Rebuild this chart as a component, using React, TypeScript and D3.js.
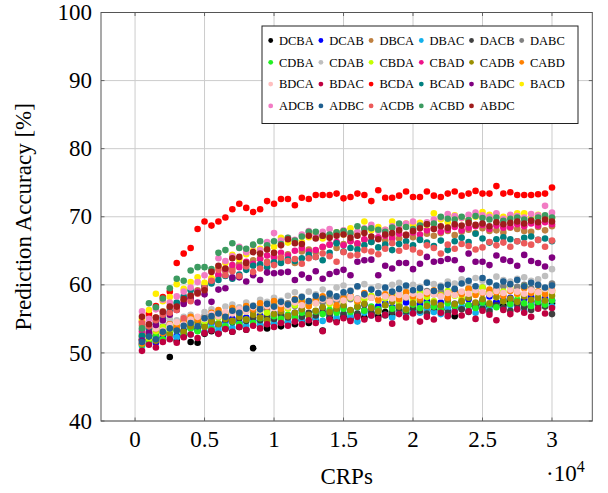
import React from "react";
import * as d3 from "d3";

const crps = [500,1000,1500,2000,2500,3000,3500,4000,4500,5000,5500,6000,6500,7000,7500,8000,8500,9000,9500,10000,10500,11000,11500,12000,12500,13000,13500,14000,14500,15000,15500,16000,16500,17000,17500,18000,18500,19000,19500,20000,20500,21000,21500,22000,22500,23000,23500,24000,24500,25000,25500,26000,26500,27000,27500,28000,28500,29000,29500,30000];

const xTicks = [0, 5000, 10000, 15000, 20000, 25000, 30000];
const xTickLabels = ["0", "0.5", "1", "1.5", "2", "2.5", "3"];
const yTicks = [40, 50, 60, 70, 80, 90, 100];

const DCBA = [52.0,52.6,51.9,52.2,49.4,51.8,52.5,51.6,51.5,52.8,53.2,52.9,53.6,53.1,53.8,53.4,50.7,54.0,53.6,54.3,53.9,54.5,54.2,54.8,54.4,55.0,53.3,55.2,54.8,55.4,55.0,55.6,55.2,55.8,55.4,56.0,55.6,56.2,55.8,56.4,56.0,56.6,56.2,56.8,56.4,55.4,56.6,57.0,56.7,57.2,56.9,57.4,57.0,57.6,57.3,56.8,57.5,57.1,57.7,57.3];
const DCAB = [51.3,51.9,51.5,52.3,52.8,52.5,53.2,53.7,53.3,53.9,54.4,54.0,54.6,55.0,54.5,55.2,54.8,55.5,55.1,55.7,56.0,55.4,55.9,56.3,55.7,56.1,56.6,56.0,56.4,56.8,56.2,56.7,57.1,56.5,56.9,57.3,56.7,57.0,57.4,56.9,57.2,57.6,57.0,57.4,57.8,57.2,57.5,57.9,57.3,57.7,58.3,57.5,57.8,58.1,57.4,57.9,58.2,57.6,58.0,57.7];
const DBCA = [54.0,55.5,55.2,56.1,56.6,57.2,57.8,58.5,59.2,59.9,60.8,61.3,62.0,62.4,63.1,62.8,63.6,63.9,63.4,64.2,63.8,64.5,63.2,64.9,65.2,64.8,65.5,65.9,65.4,66.0,66.4,65.9,66.6,66.3,66.9,66.5,67.2,66.8,67.4,67.0,66.7,67.5,67.2,67.6,67.9,67.3,67.8,68.1,67.6,68.3,67.9,68.0,67.7,68.4,68.2,67.9,67.8,68.5,68.0,68.6];
const DBAC = [51.0,51.5,52.2,51.8,52.6,52.3,53.0,52.7,53.4,53.1,53.8,53.4,54.1,53.7,54.3,54.0,54.6,54.2,54.8,54.4,55.0,54.6,55.3,54.9,55.5,55.1,54.7,55.6,55.2,55.8,55.4,54.6,55.9,55.5,56.1,55.6,55.2,56.2,55.8,56.3,55.9,56.5,56.0,55.7,56.6,56.2,56.8,56.3,55.9,56.7,56.4,56.9,56.5,57.0,56.6,56.2,57.1,56.7,57.2,56.8];
const DACB = [52.4,52.9,52.6,53.4,53.0,53.7,53.3,54.0,53.6,54.2,54.7,54.3,54.9,54.5,55.1,54.7,55.2,54.8,55.4,55.0,55.6,55.2,55.7,55.3,55.9,55.5,56.0,55.6,56.1,55.7,56.2,55.8,56.3,55.9,56.4,55.5,56.0,56.5,56.1,56.6,56.2,55.8,56.7,56.3,55.9,56.8,56.4,56.0,56.9,56.5,56.1,57.0,56.6,56.2,57.1,56.7,56.3,57.2,56.8,55.7];
const DABC = [52.8,53.4,53.0,53.9,54.3,54.0,54.7,55.0,54.6,55.4,55.1,55.8,55.5,56.1,55.7,56.4,56.0,56.7,56.3,57.0,56.6,57.3,56.9,57.5,57.2,57.8,57.4,58.1,57.6,58.3,57.9,58.0,58.5,58.2,58.7,58.3,58.9,58.5,58.1,58.8,58.4,59.1,58.6,59.0,58.7,59.3,58.9,59.5,59.2,59.6,59.0,59.4,59.8,59.3,59.7,60.0,59.5,59.9,59.4,60.2];
const CDBA = [51.2,51.8,52.4,52.0,52.9,53.3,52.8,53.6,53.2,54.0,53.5,54.3,53.9,54.6,54.2,54.9,54.4,55.1,54.7,55.4,55.0,55.6,55.2,55.9,55.5,56.1,55.7,56.3,55.9,56.5,56.0,56.7,56.2,56.8,56.4,57.0,56.5,56.9,56.3,57.1,56.6,57.2,56.8,56.4,57.3,56.9,57.5,57.0,56.6,57.4,57.1,56.7,57.6,57.2,57.8,57.3,56.9,57.5,57.1,57.7];
const CDAB = [53.5,54.2,53.8,54.6,55.0,54.8,55.3,55.6,55.2,56.0,56.4,56.1,56.8,57.1,56.7,57.4,57.0,57.8,57.5,58.1,57.7,58.4,58.9,58.3,59.0,58.6,59.3,58.8,59.6,59.9,59.2,59.7,60.1,59.5,59.8,59.4,60.0,60.3,59.6,60.0,59.7,60.4,60.1,59.9,60.5,60.2,60.8,60.3,61.0,60.6,60.4,61.2,60.7,60.5,60.9,61.1,60.6,60.8,61.3,62.3];
const CBDA = [52.6,52.1,53.2,53.8,53.4,54.1,54.7,54.3,55.0,54.6,55.5,55.2,55.8,56.3,55.7,56.1,56.7,56.2,55.9,56.8,57.2,56.5,57.0,57.6,56.9,57.3,57.9,57.2,56.7,57.6,58.1,57.4,57.9,58.4,57.7,58.0,58.6,57.5,58.3,57.8,58.9,58.2,57.6,58.5,59.1,58.4,58.0,59.3,58.7,59.6,58.9,58.2,59.0,59.5,58.6,59.8,59.1,58.5,59.3,58.9];
const CBAD = [53.2,53.8,54.6,55.3,56.0,56.8,57.4,58.0,59.0,59.6,60.4,61.5,62.3,62.9,62.6,63.4,63.1,63.8,64.3,64.0,64.7,64.3,65.0,65.4,64.9,65.1,65.6,65.9,66.3,65.8,66.4,66.1,66.7,66.4,67.0,67.2,66.8,67.5,67.3,67.7,67.4,68.0,68.3,67.8,68.1,68.5,68.0,68.4,68.6,68.8,68.2,68.7,68.4,68.5,68.9,68.6,69.0,68.7,69.2,68.9];
const CADB = [51.9,52.5,51.8,53.0,52.7,53.5,53.1,53.9,54.4,53.8,54.6,54.2,55.0,54.7,55.3,54.9,55.6,55.2,54.8,55.7,56.1,55.4,55.9,56.4,55.6,56.2,56.7,56.0,56.5,57.0,56.3,56.8,57.2,56.6,56.1,57.0,57.5,56.8,56.4,57.3,57.7,56.9,57.4,57.0,57.8,57.2,57.6,58.1,57.4,57.9,57.3,58.2,57.6,58.0,57.5,58.3,57.8,58.1,57.7,58.4];
const CABD = [51.4,52.7,53.5,52.9,54.2,53.8,54.6,55.3,54.9,55.1,55.9,56.3,55.6,56.6,56.0,56.9,56.4,57.3,56.8,57.6,56.5,57.1,57.9,57.4,56.9,57.7,58.3,57.5,57.0,58.0,58.4,57.6,58.8,58.1,57.8,58.6,58.2,57.9,58.9,58.3,58.0,58.7,59.2,58.4,58.1,59.0,58.6,59.4,58.5,58.8,59.3,58.9,58.4,59.1,58.7,59.5,58.8,59.0,58.6,59.2];
const BDCA = [52.2,53.0,53.6,53.3,54.1,54.5,54.2,54.9,55.3,55.0,55.7,55.4,56.0,55.8,56.4,56.1,56.7,56.3,56.9,56.6,57.2,56.8,57.4,57.0,57.6,57.3,57.8,57.5,58.0,57.7,58.2,57.9,58.4,58.1,58.6,58.3,58.0,58.5,58.2,58.7,58.4,58.9,58.6,58.3,58.8,58.5,59.0,58.7,59.2,58.9,58.6,59.1,58.8,59.3,59.0,58.7,59.2,58.9,59.4,59.1];
const BDAC = [50.3,51.2,50.8,51.6,52.0,51.5,52.3,52.7,52.2,52.9,53.3,52.8,53.5,53.1,53.8,53.4,54.0,53.6,54.2,53.8,54.4,54.0,54.6,54.2,54.8,54.4,53.2,54.9,54.5,55.1,54.7,55.3,54.9,55.5,55.0,55.6,54.3,55.7,55.2,55.8,54.6,55.3,54.9,55.9,55.4,56.0,55.5,56.1,55.0,56.2,55.6,54.8,56.3,55.7,56.4,55.9,55.3,56.5,55.8,56.6];
const BCDA = [54.6,55.8,56.9,58.2,59.0,63.2,64.6,65.4,68.2,69.3,68.7,69.3,69.9,71.1,71.9,71.3,70.7,71.1,72.3,71.9,72.6,72.6,71.7,72.8,72.6,73.2,73.2,73.2,73.4,72.7,72.9,73.4,73.2,72.3,73.9,72.8,72.8,73.1,73.7,72.9,72.9,73.7,73.1,72.9,73.4,73.7,73.1,73.4,73.8,73.4,73.4,74.5,73.4,73.6,73.2,73.2,73.2,73.3,73.4,74.3];
const BCAD = [52.5,53.6,54.3,55.1,56.0,57.4,58.3,59.2,58.8,59.6,60.2,60.7,61.3,60.9,61.5,62.2,62.8,63.0,62.6,63.3,63.2,63.7,63.5,63.9,64.4,64.1,63.6,64.7,66.1,64.9,65.4,65.2,65.8,66.3,65.5,65.9,65.1,66.0,66.4,65.8,66.6,66.2,65.7,66.5,65.1,66.4,66.9,66.3,67.5,66.8,66.2,66.7,67.0,66.7,66.4,66.9,67.1,66.6,66.8,66.4];
const BADC = [51.8,53.0,54.1,54.8,55.6,56.3,57.2,58.0,57.4,58.6,57.5,59.3,59.5,61.1,61.1,60.5,61.4,60.7,61.8,61.7,61.8,61.9,60.7,61.5,61.0,62.0,60.9,61.6,61.9,62.2,61.4,63.4,63.6,63.7,61.4,62.8,62.4,63.2,63.2,62.3,63.1,64.1,63.4,63.5,63.8,63.6,62.3,64.6,63.4,63.4,62.9,64.3,63.7,63.5,62.8,64.4,63.5,63.2,62.7,64.0];
const BACD = [55.0,56.3,58.7,57.6,58.2,60.1,59.4,60.4,61.1,60.3,61.0,62.6,63.2,64.4,63.8,64.5,65.0,65.3,65.9,65.6,66.9,66.2,66.5,66.3,67.0,67.5,66.8,67.2,67.7,67.4,68.3,67.6,69.3,68.0,68.5,68.1,69.3,68.6,69.0,68.7,69.1,68.8,70.5,69.6,69.2,70.2,69.8,69.5,70.0,70.7,70.3,70.4,70.0,70.2,70.5,70.5,69.9,70.3,69.7,69.8];
const ADCB = [56.1,55.0,56.4,57.8,57.4,58.3,59.0,59.6,60.4,61.4,62.0,63.9,63.5,64.2,65.6,64.8,65.8,65.1,66.3,67.6,66.5,66.9,66.6,67.4,67.9,67.3,67.8,68.2,67.6,68.0,67.4,67.8,68.3,68.8,67.9,68.1,68.6,68.4,69.0,69.3,68.7,69.2,69.6,69.9,70.4,70.1,69.8,70.3,70.6,70.2,70.0,70.5,69.7,70.3,70.1,69.9,70.4,70.2,71.6,70.6];
const ADBC = [51.6,52.4,52.0,53.1,53.6,53.3,54.0,54.4,53.9,55.1,55.4,55.8,55.3,56.2,55.9,56.5,56.9,56.4,57.2,56.8,57.5,57.1,57.8,58.2,57.6,58.4,58.0,58.7,58.3,58.9,59.1,59.8,58.6,59.3,58.8,59.6,59.0,59.4,59.9,59.2,59.5,60.3,59.1,59.7,60.0,59.4,60.2,60.6,59.8,61.0,60.4,59.9,60.5,60.1,60.7,59.8,60.3,60.0,59.6,59.9];
const ACDB = [54.4,53.9,54.8,55.6,55.9,56.3,55.1,57.6,58.7,59.5,60.6,62.2,61.4,62.0,61.3,62.7,61.9,62.4,63.2,62.9,64.0,63.5,63.8,63.1,63.9,64.1,64.6,64.2,63.4,64.8,64.3,64.4,65.1,64.9,64.5,65.3,66.1,65.0,65.6,65.2,64.7,65.8,65.4,64.6,65.9,65.3,66.0,65.7,65.2,65.5,66.3,65.8,66.2,65.6,66.4,66.1,65.9,66.6,65.6,66.5];
const ACBD = [53.6,57.3,56.7,58.0,59.5,60.9,60.6,62.1,62.6,62.6,62.3,64.7,65.1,66.1,65.4,65.3,65.9,66.4,65.8,66.4,66.0,66.9,66.5,67.1,67.8,67.8,67.2,67.4,67.7,67.9,67.6,68.6,68.2,68.3,68.1,67.8,68.4,69.0,68.5,68.2,68.7,68.9,69.0,70.0,69.7,69.6,70.0,69.5,70.1,69.8,69.6,69.9,69.4,69.7,69.9,69.6,69.5,69.9,70.2,69.9];
const ABDC = [55.3,54.2,55.2,56.0,56.8,56.8,57.9,58.4,58.8,59.2,61.9,62.8,62.4,63.9,64.1,63.2,64.8,64.6,65.2,64.7,65.8,66.7,66.1,66.0,67.2,66.8,67.2,66.9,67.2,67.4,66.9,67.2,67.6,67.1,66.7,67.4,67.6,68.0,67.3,67.9,68.3,68.9,68.2,68.6,68.4,68.9,68.7,69.1,68.8,69.0,68.6,69.2,68.9,69.1,69.3,69.0,69.4,69.2,69.6,69.3];

const seriesNames = ["DCBA","DCAB","DBCA","DBAC","DACB","DABC","CDBA","CDAB","CBDA","CBAD","CADB","CABD","BDCA","BDAC","BCDA","BCAD","BADC","BACD","ADCB","ADBC","ACDB","ACBD","ABDC"];
const seriesValues = [DCBA,DCAB,DBCA,DBAC,DACB,DABC,CDBA,CDAB,CBDA,CBAD,CADB,CABD,BDCA,BDAC,BCDA,BCAD,BADC,BACD,ADCB,ADBC,ACDB,ACBD,ABDC];
const seriesColors = ["#000000","#0000ff","#bf8040","#12b0ec","#404040","#808080","#22f022","#bfbfbf","#c4ff00","#ee1289","#9b8f00","#ff8000","#ffbfbf","#bf0040","#ff0000","#008080","#800080","#ffee00","#f27cc4","#206090","#ec5a5a","#3c9b60","#a01c1c"];

const W = 608, H = 493;
const L = 101, R = 592.3, T = 12.5, B = 421;
const FONT = "'Liberation Serif', 'Times New Roman', 'DejaVu Serif', serif";

export default function App() {
  const x = d3.scaleLinear().domain([-2450, 32900]).range([L, R]);
  const y = d3.scaleLinear().domain([40, 100]).range([B, T]);
  const legX0 = 270.7, legDX = 50.2, legY0 = 40.5, legDY = 21.8;
  return (
    <svg width={W} height={H} style={{ position: "absolute", left: 0, top: 0, background: "#fff", fontFamily: FONT }}>
      <g>
        {xTicks.map((t) => (
          <line key={"gx" + t} x1={x(t)} x2={x(t)} y1={T} y2={B} stroke="#cccccc" strokeWidth={1} />
        ))}
        {yTicks.map((t) => (
          <line key={"gy" + t} x1={L} x2={R} y1={y(t)} y2={y(t)} stroke="#cccccc" strokeWidth={1} />
        ))}
        {xTicks.map((t) => (
          <g key={"tx" + t}>
            <line x1={x(t)} x2={x(t)} y1={B} y2={B - 3.5} stroke="#666" />
            <line x1={x(t)} x2={x(t)} y1={T} y2={T + 3.5} stroke="#666" />
          </g>
        ))}
        {yTicks.map((t) => (
          <g key={"ty" + t}>
            <line x1={L} x2={L + 3.5} y1={y(t)} y2={y(t)} stroke="#666" />
            <line x1={R} x2={R - 3.5} y1={y(t)} y2={y(t)} stroke="#666" />
          </g>
        ))}
      </g>
      <g>
        {seriesValues.map((vals, si) => (
          <g key={seriesNames[si]}>
            {vals.map((v, i) => (
              <circle key={i} cx={x(crps[i])} cy={y(v)} r={3.3} fill={seriesColors[si]} />
            ))}
          </g>
        ))}
      </g>
      <rect x={L} y={T} width={R - L} height={B - T} fill="none" stroke="#555" strokeWidth={1} />
      {xTicks.map((t, i) => (
        <text key={"lx" + t} x={x(t)} y={446.5} fontSize={23} textAnchor="middle" fill="#000">{xTickLabels[i]}</text>
      ))}
      {yTicks.map((t) => (
        <text key={"ly" + t} x={92} y={y(t)} dy="0.33em" fontSize={23} textAnchor="end" fill="#000">{t}</text>
      ))}
      <text x={(L + R) / 2} y={484} fontSize={23} textAnchor="middle">CRPs</text>
      <text x={546} y={481} fontSize={23}>
        <tspan>·10</tspan>
        <tspan dy={-9} fontSize={16}>4</tspan>
      </text>
      <text transform={`translate(31, ${(T + B) / 2}) rotate(-90)`} fontSize={23} textAnchor="middle">Prediction Accuracy [%]</text>
      <g>
        <rect x={262} y={26} width={316} height={97.5} fill="#fff" stroke="#222" strokeWidth={1} />
        {seriesNames.map((n, i) => {
          const col = i % 6, row = Math.floor(i / 6);
          const cx = legX0 + col * legDX, cy = legY0 + row * legDY;
          return (
            <g key={"lg" + n}>
              <circle cx={cx} cy={cy} r={2.4} fill={seriesColors[i]} />
              <text x={cx + 8.3} y={cy} dy="0.35em" fontSize={12.5}>{n}</text>
            </g>
          );
        })}
      </g>
    </svg>
  );
}
